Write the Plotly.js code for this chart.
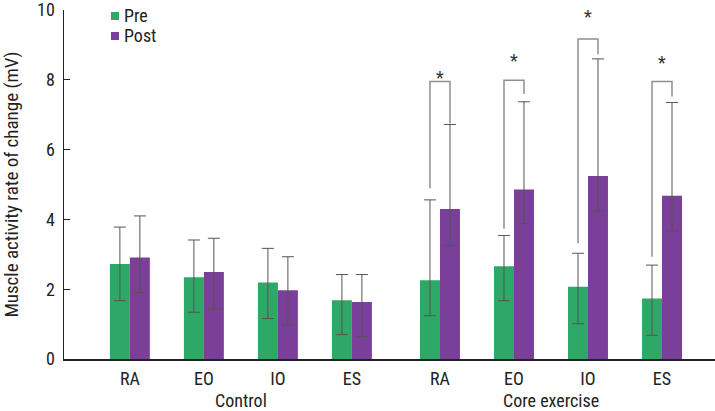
<!DOCTYPE html>
<html>
<head>
<meta charset="utf-8">
<script src="https://cdn.plot.ly/plotly-3.0.1.min.js"></script>
<style>html,body{margin:0;padding:0;background:#fff;}#chart{width:715px;height:411px;}</style>
</head>
<body>
<div id="chart"></div>
<script>
// ---- data ----
const muscles = ["RA", "EO", "IO", "ES", "RA", "EO", "IO", "ES"];
const groups = ["Control", "Core exercise"];
const seriesNames = ["Pre", "Post"];
const xPos = [0, 1, 2, 3, 4.19, 5.19, 6.19, 7.19];
const preMean  = [2.72, 2.34, 2.19, 1.68, 2.26, 2.66, 2.07, 1.73];
const preUp    = [1.06, 1.07, 0.98, 0.74, 2.30, 0.88, 0.96, 0.96];
const preDown  = [1.05, 1.00, 1.03, 0.98, 1.02, 0.99, 1.06, 1.05];
const postMean = [2.91, 2.49, 1.97, 1.63, 4.30, 4.86, 5.24, 4.68];
const postUp   = [1.19, 0.97, 0.96, 0.79, 2.42, 2.51, 3.36, 2.67];
const postDown = [1.01, 1.05, 1.00, 0.99, 1.05, 0.98, 1.00, 1.01];
// significance brackets (core exercise only): index, left foot, top, right foot, star
const sigIdx   = [4, 5, 6, 7];
const sigLeft  = [4.89, 3.73, 3.32, 2.93];
const sigTop   = [7.95, 7.99, 9.17, 7.95];
const sigRight = [6.75, 7.59, 8.73, 7.52];
const sigStar  = [8.16, 8.64, 9.91, 8.58];
const yTicks = [0, 2, 4, 6, 8, 10];

const GREEN = "#2ea867", PURPLE = "#7a3f99";
const COLORS = [GREEN, PURPLE];
const FONT = "'Liberation Sans Narrow', 'Roboto Condensed', Roboto, sans-serif";
const BW = 0.27;
const W = 715, H = 411, M = {l: 64, r: 0, t: 10, b: 52};
const PW = W - M.l - M.r, PH = H - M.t - M.b;
const px2paperX = p => (p - M.l) / PW;
const px2paperY = p => (H - M.b - p) / PH;

const traces = [
  {type: "bar", name: seriesNames[0], x: xPos, y: preMean, width: BW, offset: -BW,
   marker: {color: GREEN},
   error_y: {type: "data", symmetric: false, array: preUp, arrayminus: preDown,
             color: "#555", thickness: 1, width: 6}},
  {type: "bar", name: seriesNames[1], x: xPos, y: postMean, width: BW, offset: 0,
   marker: {color: PURPLE},
   error_y: {type: "data", symmetric: false, array: postUp, arrayminus: postDown,
             color: "#555", thickness: 1, width: 6}}
];

sigIdx.forEach((k, i) => {
  const xl = xPos[k] - BW / 2, xr = xPos[k] + BW / 2;
  traces.push({type: "scatter", mode: "lines", showlegend: false, hoverinfo: "skip",
    x: [xl, xl, xr, xr], y: [sigLeft[i], sigTop[i], sigTop[i], sigRight[i]],
    line: {color: "#8f8f8f", width: 1.5}});
});

const annotations = sigIdx.map((k, i) => ({
  x: xPos[k], y: sigStar[i], xref: "x", yref: "y", yshift: -3, text: "*", showarrow: false,
  font: {family: FONT, size: 18, color: "#333"}
}));
annotations.push(
  {x: (xPos[0] + xPos[3]) / 2, y: 0, yshift: -41, yanchor: "middle", xref: "x", yref: "paper", text: groups[0], showarrow: false, font: {family: FONT, size: 18, color: "#222"}},
  {x: (xPos[4] + xPos[7]) / 2, y: 0, yshift: -41, yanchor: "middle", xref: "x", yref: "paper", text: groups[1], showarrow: false, font: {family: FONT, size: 18, color: "#222"}}
);

// manual legend
const shapes = [];
seriesNames.forEach((nm, i) => {
  const cy = 16 + i * 20;
  shapes.push({type: "rect", xref: "paper", yref: "paper",
    x0: px2paperX(111), x1: px2paperX(119), y0: px2paperY(cy + 4), y1: px2paperY(cy - 4),
    fillcolor: COLORS[i], line: {width: 0}});
  annotations.push({xref: "paper", yref: "paper", x: px2paperX(122), y: px2paperY(cy),
    xanchor: "left", yanchor: "middle", text: nm, showarrow: false,
    font: {family: FONT, size: 18, color: "#222"}});
});

const layout = {
  width: W, height: H,
  margin: M,
  paper_bgcolor: "#fff", plot_bgcolor: "#fff",
  barmode: "group",
  showlegend: false,
  font: {family: FONT, size: 18, color: "#222"},
  xaxis: {range: [-0.89, 7.906], tickvals: xPos, ticktext: muscles, ticks: "",
          showline: true, linecolor: "#222", linewidth: 1.5, showgrid: false, zeroline: false,
          ticklabelstandoff: 3,
          tickfont: {family: FONT, size: 18, color: "#222"}, fixedrange: true},
  yaxis: {range: [0, 10], tickvals: yTicks, ticks: "inside", ticklen: 6,
          tickcolor: "#222", showline: true, linecolor: "#222", linewidth: 1.5,
          showgrid: false, zeroline: false, ticklabelstandoff: 4,
          ticklabeloverflow: "allow",
          tickfont: {family: FONT, size: 18, color: "#222"},
          title: {text: "Muscle activity rate of change (mV)", font: {family: FONT, size: 19, color: "#222"}, standoff: 20}},
  shapes: shapes,
  annotations: annotations
};

Plotly.newPlot("chart", traces, layout, {displayModeBar: false, staticPlot: true});
</script>
</body>
</html>
